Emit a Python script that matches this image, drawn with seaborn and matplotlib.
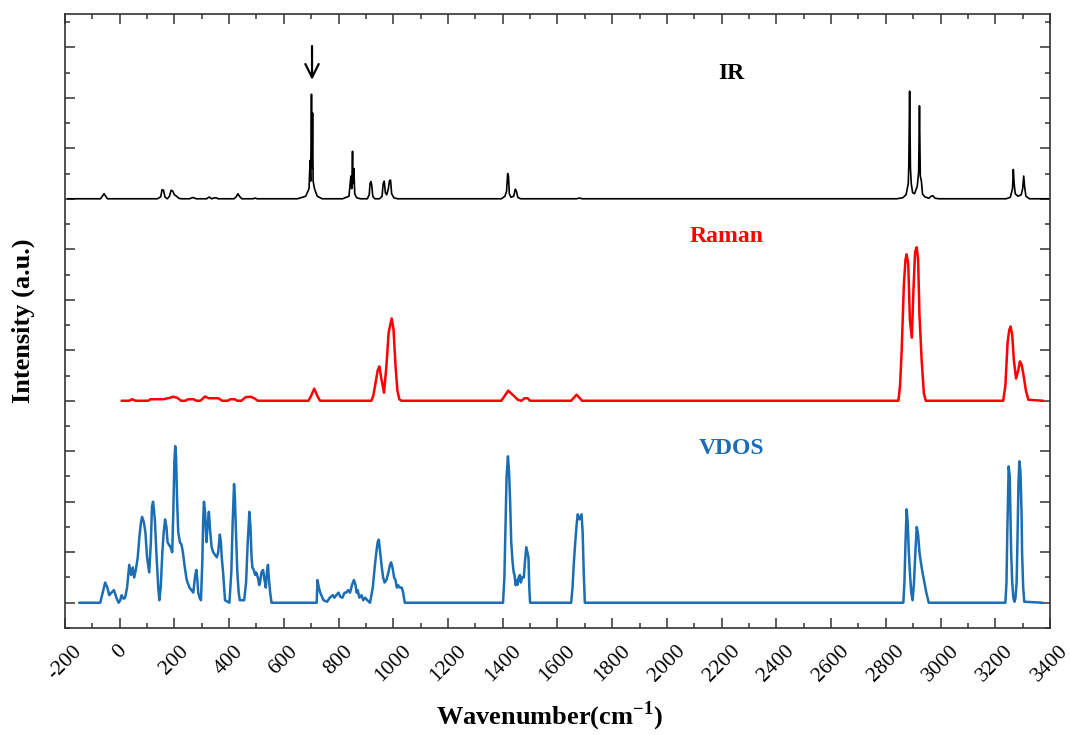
import matplotlib
matplotlib.use("Agg")
import matplotlib.pyplot as plt
from matplotlib.ticker import MultipleLocator
import seaborn as sns

sns.set_style("ticks")
plt.rcParams["font.family"] = ["Liberation Serif", "DejaVu Serif"]
plt.rcParams["mathtext.fontset"] = "custom"
plt.rcParams["mathtext.rm"] = "Liberation Serif:bold"
plt.rcParams["mathtext.bf"] = "Liberation Serif:bold"

# spectra: wavenumber (cm-1) and intensity above each baseline
ir_x = [-190, -70, -62, -57, -52, -45, 138, 150, 155, 160, 166, 174, 182, 188, 194, 200,
        208, 216, 225, 255, 268, 280, 318, 327, 336, 345, 352, 360, 418, 426, 432, 438,
        446, 488, 495, 502, 650, 680, 692, 696, 698, 701, 703, 705, 707, 712, 722, 740,
        815, 838, 845, 848, 851, 853, 856, 859, 866, 880, 905, 912, 915, 918, 921, 925,
        932, 950, 959, 963, 967, 971, 976, 982, 986, 990, 994, 1002, 1015, 1395, 1408,
        1414, 1418, 1421, 1424, 1430, 1440, 1446, 1450, 1455, 1465, 1670, 1680, 1690,
        2840, 2862, 2874, 2882, 2884, 2887, 2890, 2893, 2898, 2905, 2915, 2920, 2923,
        2926, 2930, 2934, 2942, 2957, 2966, 2972, 2980, 2995, 3240, 3255, 3263, 3266,
        3269, 3273, 3283, 3295, 3300, 3304, 3307, 3312, 3325, 3400]
ir_y = [0, 0, 0.06, 0.1, 0.06, 0, 0, 0.04, 0.18, 0.17, 0.03, 0, 0.05, 0.17, 0.15, 0.08,
        0.05, 0.01, 0, 0, 0.025, 0, 0, 0.035, 0, 0.015, 0.02, 0, 0, 0.04, 0.1, 0.05,
        0, 0, 0.015, 0, 0, 0.05, 0.2, 0.76, 0.35, 2.07, 0.6, 1.7, 0.35, 0.2, 0.05, 0,
        0, 0.05, 0.45, 0.2, 0.94, 0.3, 0.6, 0.1, 0.02, 0, 0, 0.08, 0.3, 0.34, 0.28, 0.05,
        0, 0, 0.05, 0.3, 0.35, 0.12, 0.08, 0.2, 0.36, 0.37, 0.1, 0.02, 0, 0, 0.05,
        0.15, 0.5, 0.45, 0.1, 0.03, 0.05, 0.19, 0.15, 0.03, 0, 0, 0.015, 0,
        0, 0.02, 0.08, 0.3, 0.66, 2.13, 0.6, 0.3, 0.12, 0.1, 0.25, 0.53, 1.84,
        0.45, 0.35, 0.1, 0.04, 0.01, 0.05, 0.06, 0.01, 0, 0, 0.03, 0.2, 0.58,
        0.3, 0.1, 0.05, 0.08, 0.2, 0.45, 0.25, 0.05, 0, 0]

raman_x = [7, 35, 46, 58, 105, 112, 160, 185, 195, 210, 225, 240, 250, 270, 280, 295, 312,
           325, 360, 375, 395, 405, 420, 430, 445, 460, 478, 492, 505, 690, 700, 711, 722,
           732, 920, 927, 935, 943, 949, 956, 966, 975, 983, 994, 1001, 1008, 1015, 1022,
           1030, 1395, 1405, 1420, 1440, 1455, 1468, 1480, 1491, 1500, 1650, 1660, 1670,
           1680, 1690, 2846, 2852, 2858, 2866, 2872, 2876, 2882, 2888, 2895, 2901, 2907,
           2913, 2918, 2923, 2931, 2939, 2946, 3229, 3237, 3245, 3251, 3256, 3262, 3268,
           3276, 3284, 3290, 3296, 3302, 3312, 3321, 3375]
raman_y = [0, 0, 0.03, 0, 0, 0.03, 0.03, 0.06, 0.08, 0.06, 0, 0, 0.03, 0.03, 0, 0, 0.085,
           0.05, 0.05, 0, 0, 0.03, 0.03, 0, 0, 0.07, 0.08, 0.05, 0, 0, 0.1, 0.24, 0.1,
           0, 0, 0.1, 0.35, 0.6, 0.68, 0.45, 0.16, 0.7, 1.35, 1.63, 1.4, 0.7, 0.2, 0.03,
           0, 0, 0.08, 0.2, 0.1, 0.02, 0, 0.05, 0.05, 0, 0, 0.06, 0.12,
           0.06, 0, 0, 0.3, 1.0, 2.3, 2.8, 2.9, 2.7, 1.6, 1.25, 2.2, 2.95,
           3.04, 2.8, 1.7, 0.8, 0.15, 0, 0, 0.3, 1.15, 1.4, 1.47, 1.3, 0.8,
           0.44, 0.6, 0.78, 0.72, 0.55, 0.2, 0.02, 0]

vdos_x = [-148, -71, -62, -53, -45, -38, -30, -21, -12, -4, 2, 7, 14, 20, 27, 35, 42, 48,
          53, 59, 66, 72, 78, 82, 88, 94, 100, 108, 114, 118, 122, 126, 129, 135, 141, 145,
          150, 156, 161, 166, 171, 175, 180, 186, 192, 196, 200, 203, 206, 210, 214, 220,
          226, 231, 238, 245, 255, 262, 269, 275, 280, 284, 287, 292, 297, 302, 305, 308,
          312, 317, 321, 326, 331, 336, 342, 348, 355, 360, 366, 370, 373, 378, 385, 401,
          408, 413, 418, 421, 425, 430, 435, 439, 455, 462, 468, 474, 478, 482, 485, 490,
          495, 499, 505, 510, 513, 518, 524, 528, 534, 538, 542, 545, 550, 555, 720, 723,
          728, 733, 737, 745, 758, 768, 779, 785, 792, 800, 806, 814, 822, 828, 835, 842,
          849, 856, 862, 866, 870, 876, 884, 890, 897, 905, 915, 925, 932, 938, 943, 947,
          952, 958, 963, 968, 975, 982, 988, 992, 997, 1003, 1008, 1013, 1017, 1024, 1031,
          1036, 1042, 1401, 1406, 1410, 1414, 1419, 1423, 1427, 1431, 1436, 1440, 1443,
          1447, 1450, 1453, 1458, 1463, 1466, 1471, 1477, 1481, 1486, 1490, 1494, 1497,
          1500, 1650, 1655, 1660, 1665, 1670, 1674, 1680, 1684, 1688, 1692, 1696, 1700,
          2864, 2868, 2872, 2876, 2880, 2884, 2888, 2893, 2898, 2903, 2908, 2913, 2918,
          2923, 2928, 2934, 2941, 2948, 2957, 3237, 3241, 3244, 3249, 3253, 3258, 3262,
          3266, 3270, 3274, 3278, 3281, 3285, 3288, 3292, 3296, 3298, 3302, 3306, 3373]
vdos_y = [0, 0, 0.2, 0.4, 0.3, 0.15, 0.2, 0.25, 0.1, 0, 0.05, 0.15, 0.08, 0.1, 0.3, 0.75,
          0.55, 0.7, 0.5, 0.65, 0.9, 1.3, 1.6, 1.7, 1.6, 1.4, 0.9, 0.6, 1.2, 1.9, 2.0, 1.8,
          1.6, 0.9, 0.3, 0.05, 0.3, 1.0, 1.4, 1.65, 1.5, 1.2, 1.15, 1.1, 1.0, 1.8, 2.8,
          3.1, 2.9, 2.0, 1.4, 1.2, 1.15, 1.0, 0.7, 0.45, 0.3, 0.25, 0.2, 0.5, 0.65, 0.45,
          0.2, 0.1, 0.05, 0.8, 1.6, 2.0, 1.8, 1.2, 1.5, 1.8, 1.4, 1.1, 1.0, 0.95, 0.9, 1.0,
          1.35, 1.2, 0.9, 0.6, 0.05, 0, 0.6, 1.6, 2.35, 2.1, 1.4, 0.6, 0.2, 0.05, 0.05,
          0.4, 1.2, 1.8, 1.5, 0.9, 0.7, 0.65, 0.55, 0.6, 0.5, 0.35, 0.4, 0.6, 0.65, 0.5,
          0.3, 0.6, 0.75, 0.5, 0.2, 0, 0, 0.45, 0.3, 0.2, 0.15, 0.05, 0.02, 0.1, 0.15,
          0.1, 0.15, 0.2, 0.12, 0.1, 0.2, 0.2, 0.25, 0.2, 0.35, 0.45, 0.35, 0.2, 0.25,
          0.1, 0.15, 0.05, 0.1, 0.05, 0, 0.3, 0.7, 1.0, 1.2, 1.25, 1.0, 0.7, 0.5, 0.4,
          0.45, 0.6, 0.75, 0.8, 0.7, 0.5, 0.45, 0.3, 0.35, 0.3, 0.3, 0.2, 0, 0, 0.5,
          1.5, 2.5, 2.9, 2.6, 2.0, 1.2, 0.8, 0.6, 0.55, 0.35, 0.45, 0.35, 0.5, 0.55,
          0.4, 0.5, 0.5, 0.8, 1.1, 1.0, 0.9, 0.3, 0, 0, 0.3, 0.8, 1.2, 1.55, 1.75,
          1.65, 1.7, 1.75, 1.4, 0.6, 0, 0, 0.4, 1.2, 1.85, 1.6, 1.0, 0.6, 0.2, 0.05,
          0.4, 1.0, 1.5, 1.35, 1.0, 0.8, 0.6, 0.4, 0.2, 0, 0, 0.4, 1.4, 2.7, 2.5, 1.0,
          0.4, 0.1, 0.02, 0.1, 0.4, 1.2, 2.4, 2.8, 2.6, 1.8, 1.0, 0.3, 0.02, 0]

xticks = list(range(-200, 3401, 200))
series_names = ["IR", "Raman", "VDOS"]
offsets = {"IR": 8, "Raman": 4, "VDOS": 0}
colors = {"IR": "black", "Raman": "#ff0000", "VDOS": "#1b6db4"}
widths = {"IR": 1.2, "Raman": 1.8, "VDOS": 1.8}

fig = plt.figure(figsize=(10.7, 7.35), dpi=100)
ax = fig.add_axes([0.0607, 0.1456, 0.9206, 0.8354])

data = {"IR": (ir_x, ir_y), "Raman": (raman_x, raman_y), "VDOS": (vdos_x, vdos_y)}
for name in series_names:
    xs, ys = data[name]
    sns.lineplot(x=xs, y=[v + offsets[name] for v in ys], sort=False, estimator=None,
                 color=colors[name], lw=widths[name], ax=ax)

# labels for each trace
ax.text(2237, 10.49, "IR", color=colors["IR"], fontsize=17, fontweight="bold",
        ha="center", va="center")
ax.text(2218, 7.25, "Raman", color=colors["Raman"], fontsize=17, fontweight="bold",
        ha="center", va="center")
ax.text(2237, 3.06, "VDOS", color=colors["VDOS"], fontsize=17, fontweight="bold",
        ha="center", va="center")

# arrow over the 700 cm-1 IR band
ax.annotate("", xy=(703, 10.3), xytext=(703, 11.08),
            arrowprops=dict(arrowstyle="->", lw=1.6, color="black", mutation_scale=24))

ax.set_xlim(-200, 3400)
ax.set_ylim(-0.5, 11.66)
ax.set_xticks(xticks)
ax.set_xticklabels([str(t) for t in xticks], rotation=45, ha="center", fontsize=15.5,
                   color="black")
ax.xaxis.set_minor_locator(MultipleLocator(100))
ax.yaxis.set_major_locator(MultipleLocator(1))
ax.yaxis.set_minor_locator(MultipleLocator(0.5))
ax.tick_params(which="both", direction="in", top=True, right=True, labelleft=False,
               color="#333333", width=1.1)
ax.tick_params(which="major", length=7, pad=10)
ax.tick_params(which="minor", length=3.5)
for sp in ax.spines.values():
    sp.set_color("#333333")
    sp.set_linewidth(1.2)

ax.set_xlabel(r"Wavenumber(cm$^{\mathbf{-1}}$)", fontsize=19, fontweight="bold",
              color="black")
ax.xaxis.set_label_coords(0.492, -0.116)
ax.set_ylabel("Intensity (a.u.)", fontsize=19, fontweight="bold", color="black")
ax.yaxis.set_label_coords(-0.0305, 0.5)

plt.savefig("out.png", dpi=100)
